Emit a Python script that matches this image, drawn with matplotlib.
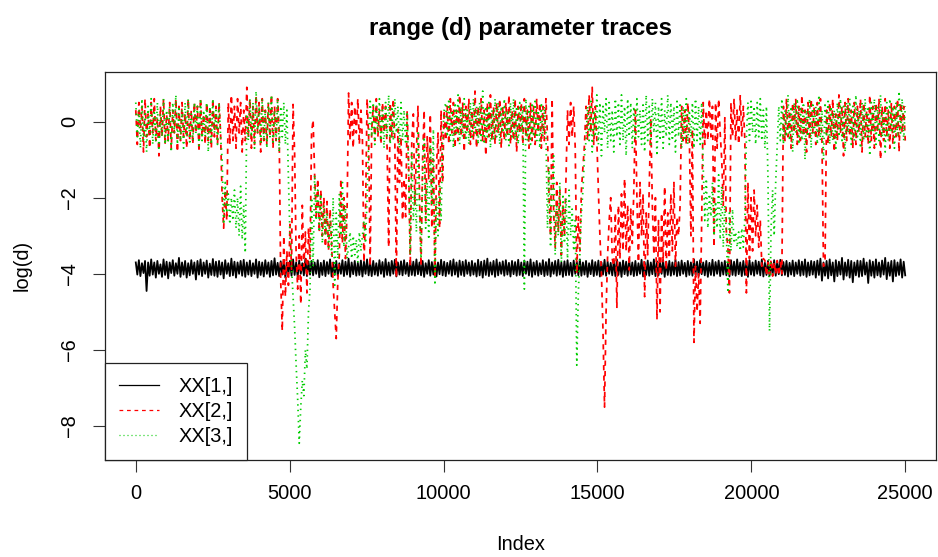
import numpy as np
import matplotlib
matplotlib.use("Agg")
import matplotlib.pyplot as plt

plt.rcParams['font.family'] = ['Liberation Sans', 'DejaVu Sans']

title = "range (d) parameter traces"
xlabel = "Index"
ylabel = "log(d)"
series_names = ["XX[1,]", "XX[2,]", "XX[3,]"]
n_iter = 25000
xticks = [0, 5000, 10000, 15000, 20000, 25000]
yticks = [-8, -6, -4, -2, 0]

# XX[1,] trace, read every ~50 iterations (alternating high / low excursions)
xx1 = [
    -3.70, -4.02, -3.64, -4.06, -3.72, -3.98, -3.66, -4.45, -3.70, -4.05,
    -3.62, -4.02, -3.70, -4.10, -3.66, -4.00, -3.75, -4.08, -3.62, -4.03,
    -3.68, -4.12, -3.70, -3.98, -3.64, -4.05, -3.72, -4.00, -3.58, -4.08,
    -3.70, -4.02, -3.66, -4.10, -3.72, -4.04, -3.64, -4.00, -3.70, -4.15,
    -3.66, -4.02, -3.62, -4.06, -3.70, -4.00, -3.65, -4.10, -3.73, -4.03,
    -3.61, -4.05, -3.68, -4.08, -3.66, -4.02, -3.70, -4.12, -3.64, -4.00,
    -3.72, -4.06, -3.60, -4.04, -3.68, -4.10, -3.70, -4.00, -3.66, -4.05,
    -3.63, -4.08, -3.70, -4.02, -3.65, -4.06, -3.72, -4.00, -3.62, -4.10,
    -3.68, -4.03, -3.70, -4.07, -3.64, -4.00, -3.70, -4.08, -3.66, -4.04,
    -3.59, -4.02, -3.71, -4.06, -3.67, -4.02, -3.64, -4.10, -3.70, -4.00,
    -3.66, -4.05, -3.62, -4.03, -3.70, -4.08, -3.65, -4.00, -3.72, -4.04,
    -3.60, -4.06, -3.68, -4.02, -3.66, -4.04, -3.70, -4.00, -3.64, -4.09,
    -3.71, -4.03, -3.65, -4.06, -3.69, -4.00, -3.62, -4.07, -3.70, -4.03,
    -3.66, -4.05, -3.72, -4.00, -3.64, -4.06, -3.68, -4.02, -3.60, -4.08,
    -3.70, -4.01, -3.66, -4.05, -3.71, -4.03, -3.65, -4.07, -3.68, -4.00,
    -3.62, -4.04, -3.70, -4.06, -3.66, -4.02, -3.72, -4.05, -3.64, -4.00,
    -3.69, -4.08, -3.61, -4.03, -3.70, -4.05, -3.66, -4.00, -3.63, -4.07,
    -3.70, -4.02, -3.67, -4.04, -3.64, -4.00, -3.71, -4.06, -3.65, -4.03,
    -3.68, -4.05, -3.62, -4.01, -3.70, -4.04, -3.66, -4.08, -3.72, -4.00,
    -3.64, -4.05, -3.69, -4.02, -3.65, -4.07, -3.70, -4.01, -3.63, -4.04,
    -3.68, -4.06, -3.71, -4.00, -3.66, -4.05, -3.62, -4.02, -3.70, -4.08,
    -3.65, -4.03, -3.68, -4.06, -3.64, -4.00, -3.70, -4.05, -3.66, -4.02,
    -3.72, -4.07, -3.63, -4.04, -3.68, -4.10, -3.65, -4.03, -3.60, -4.06,
    -3.70, -4.02, -3.66, -4.08, -3.62, -4.04, -3.70, -4.00, -3.67, -4.05,
    -3.64, -4.02, -3.71, -4.07, -3.66, -4.01, -3.69, -4.05, -3.63, -4.03,
    -3.70, -4.06, -3.65, -4.00, -3.68, -4.04, -3.62, -4.08, -3.70, -4.02,
    -3.66, -4.05, -3.72, -4.01, -3.64, -4.06, -3.69, -4.03, -3.61, -4.07,
    -3.70, -4.00, -3.66, -4.05, -3.63, -4.02, -3.70, -4.08, -3.67, -4.04,
    -3.64, -4.03, -3.71, -4.06, -3.65, -4.00, -3.68, -4.04, -3.62, -4.05,
    -3.70, -4.02, -3.66, -4.08, -3.72, -4.01, -3.64, -4.06, -3.69, -4.03,
    -3.65, -4.07, -3.70, -4.02, -3.63, -4.05, -3.68, -4.00, -3.71, -4.04,
    -3.66, -4.06, -3.62, -4.03, -3.70, -4.08, -3.65, -4.01, -3.68, -4.05,
    -3.64, -4.02, -3.70, -4.06, -3.66, -4.04, -3.72, -4.00, -3.63, -4.07,
    -3.69, -4.03, -3.65, -4.05, -3.70, -4.01, -3.62, -4.06, -3.67, -4.04,
    -3.71, -4.00, -3.64, -4.08, -3.68, -4.03, -3.66, -4.05, -3.70, -4.02,
    -3.63, -4.06, -3.69, -4.04, -3.65, -4.00, -3.71, -4.07, -3.66, -4.03,
    -3.70, -4.05, -3.62, -4.02, -3.68, -4.06, -3.64, -4.01, -3.70, -4.04,
    -3.66, -4.08, -3.71, -4.03, -3.63, -4.05, -3.69, -4.00, -3.65, -4.06,
    -3.70, -4.02, -3.66, -4.04, -3.72, -4.07, -3.64, -4.03, -3.68, -4.05,
    -3.62, -4.01, -3.70, -4.06, -3.66, -4.03, -3.69, -4.08, -3.64, -4.02,
    -3.70, -4.05, -3.65, -4.00, -3.68, -4.04, -3.62, -4.07, -3.71, -4.03,
    -3.66, -4.06, -3.70, -4.02, -3.64, -4.05, -3.68, -4.01, -3.63, -4.04,
    -3.69, -4.03, -3.66, -4.07, -3.71, -4.02, -3.65, -4.06, -3.70, -4.00,
    -3.64, -4.05, -3.68, -4.03, -3.62, -4.08, -3.70, -4.04, -3.66, -4.02,
    -3.68, -4.10, -3.65, -4.03, -3.60, -4.18, -3.70, -4.05, -3.66, -4.12,
    -3.62, -4.04, -3.70, -4.20, -3.64, -4.06, -3.68, -4.02, -3.58, -4.15,
    -3.70, -4.05, -3.63, -4.10, -3.66, -4.22, -3.70, -4.04, -3.65, -4.08,
    -3.66, -4.06, -3.60, -4.02, -3.70, -4.24, -3.64, -4.05, -3.68, -4.10,
    -3.62, -4.04, -3.70, -4.08, -3.65, -4.02, -3.58, -4.14, -3.70, -4.05,
    -3.66, -4.20, -3.64, -4.06, -3.70, -4.03, -3.62, -4.10, -3.68, -4.04,
]

# XX[2,] trace, read every ~50 iterations
xx2 = [
    # 0 - 2750
    0.3, -0.6, 0.5, -0.2, 0.4, -0.8, 0.6, -0.4, 0.2, -0.7,
    0.5, -0.3, 0.6, -0.5, 0.1, -0.9, 0.4, -0.4, 0.6, -0.6,
    0.2, -0.5, 0.5, -0.7, 0.3, -0.3, 0.6, -0.8, 0.4, -0.5,
    0.5, -0.4, 0.2, -0.7, 0.6, -0.5, 0.3, -0.6, 0.5, -0.3,
    0.4, -0.8, 0.6, -0.4, 0.2, -0.6, 0.5, -0.5, 0.3, -0.7,
    0.6, -0.4, 0.4, -0.6, 0.5, -0.3,
    # 2800 - 2950
    -2.0, -2.8, -1.8, -2.6,
    # 3000 - 4650
    0.5, -0.6, 0.7, -0.5, 0.4, -0.7, 0.6, -0.3, 0.5, -0.8,
    0.3, -0.5, 0.9, -0.4, 0.6, -0.7, 0.4, -0.6, 0.7, -0.3,
    0.5, -0.8, 0.6, -0.5, 0.3, -0.6, 0.5, -0.4, 0.7, -0.7,
    0.4, -0.5, 0.6, -0.3,
    # 4700 - 6850
    -4.2, -5.5, -3.0, -4.6, -3.4, -4.3, -2.7, -3.9, 0.45, -0.8,
    -3.5, -4.4, -3.0, -4.8, -2.2, -3.8, -2.9, -4.5, -2.8, -3.6,
    -0.3, 0.05, -1.4, -2.5, -1.5, -2.9, -1.8, -3.0, -2.0, -3.3,
    -2.1, -3.4, -2.3, -3.2, -4.3, -5.0, -5.7, -4.2, -3.5, -1.5,
    -3.2, -2.0, -3.6, -2.4,
    # 6900 - 7350
    0.75, -0.5, 0.5, -0.7, 0.4, -0.3, 0.6, -0.6, 0.3, -0.5,
    # 7400 - 7650
    -3.7, -2.4, 0.6, -0.4, -3.8, -0.2,
    # 7700 - 8750
    0.4, -0.5, 0.6, -0.4, 0.3, -0.6, 0.5, -0.3, 0.4, -0.7,
    -3.3, 0.5, -0.4, 0.6, -0.5, -4.1, -0.2, -1.6, -0.4, -2.6,
    -1.5, -2.5,
    # 8800 - 10000
    0.3, -1.2, -3.8, -0.5, 0.2, -2.2, -0.8, 0.4, -1.9, -3.8,
    -1.0, 0.3, -2.6, -0.4, -1.5, 0.2, -2.8, -1.0, -4.1, -1.2,
    -0.3, -2.8, 0.3, -1.6, 0.3,
    # 10050 - 13350
    -0.5, 0.4, -0.6, 0.6, -0.3, 0.5, -0.7, 0.3, -0.5, 0.7,
    -0.4, 0.5, -0.8, 0.4, -0.3, 0.6, -0.6, 0.3, -0.5, 0.8,
    -0.7, 0.4, -0.4, 0.6, -0.5, 0.3, -0.9, 0.5, -0.4, 0.7,
    -0.5, 0.4, -0.6, 0.5, -0.3, 0.6, -0.7, 0.4, -0.5, 0.5,
    -0.4, 0.7, -0.6, 0.3, -0.5, 0.6, -0.8, 0.4, -0.3, 0.5,
    -0.6, 0.6, -0.4, 0.3, -0.7, 0.5, -0.5, 0.4, -0.6, 0.6,
    -0.3, 0.5, -0.7, 0.4, -0.5, 0.6, -0.4,
    # 13400 - 13950
    -2.0, -3.0, 0.6, -2.4, -3.3, -1.6, -2.9, -1.8, -3.5, -2.2,
    -3.0, -1.5,
    # 14000 - 14250
    0.3, -0.6, 0.5, -0.4, 0.4, -0.7,
    # 14300 - 14550
    -4.0, -2.5, -3.4, -1.8, -1.2, -0.6,
    # 14600 - 14950
    0.4, -0.5, 0.7, -0.3, 0.9, -0.6, 0.4, -0.5,
    # 15000 - 15350
    -1.8, -3.0, -4.0, -5.5, -7.5, -5.0, -3.5, -2.6,
    # 15400 - 17850
    -2.0, -3.6, -3.8, -2.4, -4.9, -2.2, -3.6, -1.9, -3.4, -1.5,
    -3.4, -2.2, -3.9, -2.3, -3.2, -1.8, 0.3, -2.0, -3.7, -1.6,
    -3.0, -1.9, -4.6, -2.4, -3.5, -1.7, 0.1, -2.2, -3.5, -2.0,
    -5.2, -2.6, -5.0, -2.4, -3.7, -1.7, -3.9, -2.4, -3.6, -1.9,
    -3.4, -1.6, -3.8, -2.5, -3.0, -2.2, 0.4, -0.5, 0.3, -0.6,
    # 17900 - 17950
    0.5, -0.4,
    # 18000 - 18350
    -3.0, -0.2, -5.8, -3.8, -5.0, -4.0, -5.3, -2.6,
    # 18400 - 18950
    0.5, -0.6, 0.3, -0.5, 0.6, -0.4, 0.4, -3.3, 0.5, -0.7,
    0.6, -0.3,
    # 19000 - 19250
    -1.0, -2.2, 0.1, -2.9, -3.3, -4.5,
    # 19300 - 19750
    0.5, -0.4, 0.6, -0.5, 0.3, -0.6, 0.7, -0.4, 0.4, -0.5,
    # 19800 - 20350
    -4.5, -1.6, -3.6, -2.0, -3.4, -1.8, -3.0, -2.2, -3.3, -2.6,
    -3.8, -3.6,
    # 20400 - 20950
    -3.65, -4.05, -3.7, -4.0, -3.62, -4.06, -3.68, -4.02, -3.65, -4.05,
    -3.7, -4.0,
    # 21000 - 22250
    0.4, -0.5, 0.6, -0.4, 0.3, -0.7, 0.5, -0.3, 0.6, -0.6,
    0.4, -0.5, 0.7, -0.4, 0.3, -0.8, 0.5, -0.5, 0.6, -0.3,
    0.4, -0.6, 0.5, -0.4, 0.6, -0.5,
    # 22300 - 22350
    -3.8, -3.7,
    # 22400 - 24950
    0.3, -0.6, 0.5, -0.4, 0.6, -0.8, 0.2, -0.5, 0.7, -0.3,
    0.4, -0.9, 0.5, -0.5, 0.6, -0.4, 0.3, -0.7, 0.5, -0.6,
    0.4, -0.3, 0.6, -0.8, 0.5, -0.4, 0.3, -0.6, 0.7, -0.5,
    0.4, -0.7, 0.5, -0.3, 0.6, -1.0, 0.4, -0.5, 0.6, -0.4,
    0.3, -0.7, 0.5, -0.6, 0.4, -0.4, 0.6, -0.8, 0.5, -0.3,
    0.4, -0.5,
]

# XX[3,] trace, read every ~50 iterations
xx3 = [
    # 0 - 2750
    0.5, -0.4, 0.3, -0.7, 0.6, -0.5, 0.2, -0.8, 0.4, -0.3,
    0.6, -0.6, 0.3, -0.5, 0.5, -0.7, 0.2, -0.4, 0.6, -0.6,
    0.3, -0.5, 0.4, -0.8, 0.5, -0.3, 0.7, -0.6, 0.4, -0.5,
    0.3, -0.7, 0.5, -0.4, 0.6, -0.6, 0.2, -0.5, 0.5, -0.3,
    0.4, -0.7, 0.6, -0.5, 0.3, -0.4, 0.5, -0.8, 0.4, -0.6,
    0.6, -0.3, 0.3, -0.6, 0.5, -0.4,
    # 2800 - 3550
    -1.0, -2.7, -1.6, -2.4, -1.9, -2.7, -2.0, -2.6, -1.8, -2.8,
    -2.0, -3.0, -1.7, -3.1, -2.2, -3.45,
    # 3600 - 4950
    0.2, -0.5, 0.6, -0.4, 0.5, -0.7, 0.8, -0.3, 0.4, -0.6,
    0.6, -0.5, 0.3, -0.7, 0.5, -0.4, 0.7, -0.6, 0.3, -0.5,
    0.6, -0.8, 0.4, -0.4, 0.5, -0.6, 0.3, -1.5,
    # 5000 - 5650
    -3.0, -3.8, -4.6, -5.4, -6.4, -7.3, -8.45, -7.5, -6.8, -7.2,
    -6.0, -6.5, -5.0, -4.4,
    # 5700 - 6850
    -2.0, -3.8, -1.4, -2.6, -1.8, -2.9, -1.9, -3.2, -2.2, -3.0,
    -2.4, -3.3, -2.6, -3.5, -2.0, -4.3, -2.4, -3.6, -1.9, -3.0,
    -1.6, -3.3, -2.2, -3.6,
    # 6900 - 7450
    -3.3, -2.9, -3.6, -3.0, -3.5, -3.1, -3.7, -2.9, -3.4, -3.0,
    -2.6, -3.2,
    # 7500 - 7550
    -2.0, -0.5,
    # 7600 - 8750
    0.6, -0.4, 0.5, -0.6, 0.4, -0.3, 0.6, -0.5, 0.3, -0.7,
    0.5, -0.4, 0.7, -0.6, 0.4, -0.5, 0.6, -0.3, 0.4, -0.7,
    0.5, -0.5, 0.3, -0.6,
    # 8800 - 10000
    0.2, -1.5, -3.5, -0.8, -2.6, -1.8, -2.9, -0.3, -2.4, -3.6,
    -1.5, -0.4, -2.8, -1.6, -3.1, -0.6, -2.2, -0.2, -4.3, -2.0,
    -3.0, -1.7, -2.6, -0.4, 0.3,
    # 10050 - 13250
    0.5, -0.4, 0.6, -0.5, 0.3, -0.7, 0.5, -0.3, 0.7, -0.6,
    0.4, -0.4, 0.6, -0.5, 0.3, -0.6, 0.5, -0.4, 0.6, -0.3,
    0.4, -0.6, 0.5, -0.5, 0.8, -0.6, 0.4, -0.4, 0.5, -0.7,
    0.3, -0.5, 0.6, -0.4, 0.5, -0.6, 0.4, -0.3, 0.6, -0.5,
    0.3, -0.7, 0.5, -0.4, 0.6, -0.5, 0.4, -0.6, 0.5, -0.3,
    0.4, -4.4, 0.6, -0.5, 0.4, -0.6, 0.5, -0.4, 0.6, -0.5,
    0.3, -0.7, 0.5, -0.4, 0.4,
    # 13300 - 14250
    -0.3, -2.8, -1.2, -3.3, -1.8, -0.9, -3.5, -2.2, -3.0, -1.6,
    -3.7, -1.9, -3.2, -2.0, -3.6, -1.8, -3.0, -2.3, -3.4, -2.6,
    # 14300 - 14600
    -6.4, -4.5, -3.5, -2.4, -1.8, -0.9, -0.5,
    # 14650 - 18350
    0.4, -0.5, 0.6, -0.8, 0.3, -0.4, 0.7, -0.6, 0.5, -0.9,
    0.4, -0.3, 0.6, -0.7, 0.5, -0.5, 0.3, -0.8, 0.6, -0.4,
    0.5, -0.6, 0.7, -0.5, 0.4, -0.9, 0.6, -0.4, 0.5, -0.7,
    0.4, -0.5, 0.6, -0.4, 0.3, -0.6, 0.5, -0.8, 0.7, -0.5,
    0.4, -0.6, 0.6, -0.3, 0.5, -0.9, 0.4, -0.5, 0.6, -0.7,
    0.3, -0.4, 0.7, -0.6, 0.5, -0.5, 0.4, -0.8, 0.6, -0.4,
    0.5, -0.7, 0.4, -0.5, 0.6, -0.6, 0.3, -0.4, 0.5, -0.7,
    0.6, -0.5, 0.4, -0.6, 0.5,
    # 18400 - 19750
    -1.2, -2.6, -1.5, -2.8, -1.9, -2.5, -1.6, -3.0, -2.1, -2.8,
    -1.4, -3.1, -1.7, -3.3, -2.2, -2.9, -4.5, -2.4, -3.4, -2.3,
    -3.2, -2.9, -3.3, -2.9, -3.4, -2.8, -3.3, -2.5,
    # 19800 - 20450
    -0.4, 0.5, -0.5, 0.6, -0.3, 0.4, -0.6, 0.5, -0.4, 0.6,
    -0.5, 0.3, -0.7, 0.4,
    # 20500 - 20800
    -1.5, -5.5, -2.8, -1.8, -3.0, -1.6, -0.6,
    # 20850 - 24950
    0.4, -0.5, 0.6, -0.6, 0.3, -0.4, 0.7, -0.5, 0.4, -0.8,
    0.5, -0.3, 0.6, -0.6, 0.4, -0.5, 0.5, -1.0, 0.3, -0.4,
    0.6, -0.7, 0.5, -0.3, 0.4, -0.6, 0.7, -0.5, 0.3, -1.0,
    0.5, -0.4, 0.6, -0.6, 0.4, -0.5, 0.3, -0.7, 0.5, -0.4,
    0.6, -0.5, 0.4, -0.8, 0.5, -0.3, 0.6, -0.6, 0.4, -0.5,
    0.7, -0.4, 0.3, -0.7, 0.5, -0.5, 0.6, -0.4, 0.4, -0.9,
    0.5, -0.3, 0.6, -0.6, 0.4, -0.5, 0.7, -0.4, 0.3, -0.8,
    0.5, -0.5, 0.6, -0.3, 0.4, -0.7, 0.5, -0.4, 0.8, -0.3,
    0.6, -0.5, 0.4,
]

W, H = 938, 557
fig = plt.figure(figsize=(W / 100, H / 100), dpi=100)
L, R, T, B = 105, 936, 71.7, 460
ax = fig.add_axes([L / W, 1 - B / H, (R - L) / W, (B - T) / H])

for vals, col, ls, lw, name in [
    (xx1, 'black', '-', 1.3, series_names[0]),
    (xx2, '#FF0000', (0, (3, 3)), 1.25, series_names[1]),
    (xx3, '#00CD00', (0, (0.8, 2.4)), 1.25, series_names[2]),
]:
    x = np.linspace(1, n_iter, len(vals))
    ax.plot(x, vals, color=col, linestyle=ls, linewidth=lw, label=name)

ax.set_xlim(1 - 0.04 * (n_iter - 1), n_iter + 0.04 * (n_iter - 1))
ax.set_ylim(-8.89, 1.31)
ax.set_xticks(xticks)
ax.set_yticks(yticks)
ax.set_xticklabels([str(v) for v in xticks])
ax.set_yticklabels([str(v).replace('-', '\u2212') for v in yticks], rotation=90, va='center')
ax.tick_params(axis='both', direction='out', length=8.6, width=0.8, labelsize=14.4, color='#333333')
ax.tick_params(axis='x', pad=9)
ax.tick_params(axis='y', pad=10)
for s in ax.spines.values():
    s.set_linewidth(0.9)
    s.set_color('#222222')

leg = ax.legend(loc='lower left', borderaxespad=0, fontsize=14.4, frameon=True,
                fancybox=False, framealpha=1, edgecolor='#222222',
                handlelength=2.0, handletextpad=1.0, labelspacing=0.3,
                borderpad=0.7)
leg.get_frame().set_linewidth(0.9)
for h in leg.get_lines():
    h.set_linewidth(0.9)

fig.text((L + R) / 2 / W, 1 - 28 / H, title, ha='center', va='center',
         fontsize=17.3, fontweight='bold')
fig.text((L + R) / 2 / W, 1 - 545 / H, xlabel, ha='center', va='center', fontsize=14.4)
fig.text(22 / W, 1 - ((T + B) / 2) / H, ylabel, ha='center', va='center',
         rotation=90, fontsize=14.4)

fig.savefig('out.png', dpi=100)
